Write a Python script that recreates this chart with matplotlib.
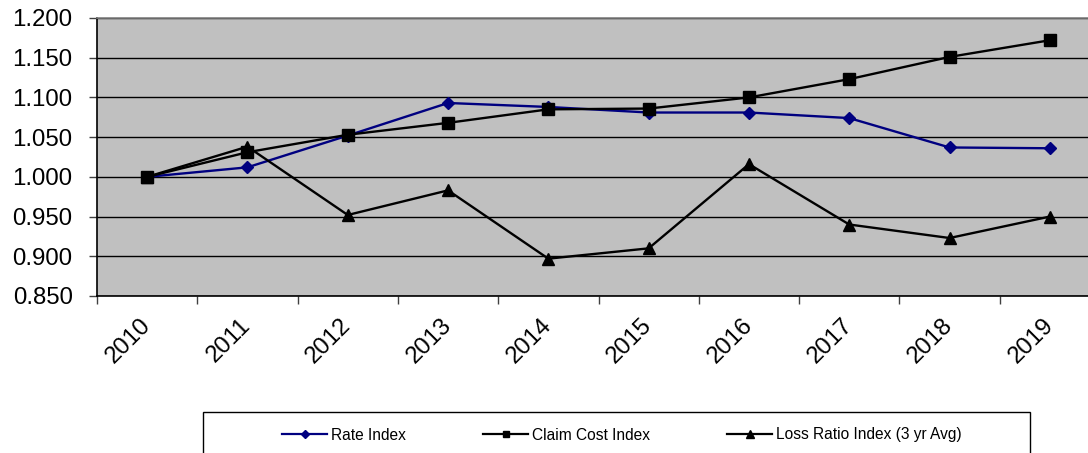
import matplotlib
matplotlib.use("Agg")
import matplotlib.pyplot as plt
from matplotlib.lines import Line2D
from matplotlib.patches import Rectangle

plt.rcParams['font.family'] = ['Liberation Sans', 'DejaVu Sans']

years = ["2010", "2011", "2012", "2013", "2014", "2015", "2016", "2017", "2018", "2019"]
rate_index = [1.000, 1.012, 1.052, 1.093, 1.088, 1.081, 1.081, 1.074, 1.037, 1.036]
claim_cost_index = [1.000, 1.031, 1.053, 1.068, 1.085, 1.086, 1.100, 1.123, 1.151, 1.172]
loss_ratio_index = [1.000, 1.038, 0.952, 0.983, 0.897, 0.910, 1.016, 0.940, 0.923, 0.950]
y_ticks = [0.85, 0.90, 0.95, 1.00, 1.05, 1.10, 1.15, 1.20]

W, H = 1088, 453
fig = plt.figure(figsize=(W / 100, H / 100), dpi=100)
ax = fig.add_axes([97 / W, (H - 296) / H, (1100 - 97) / W, (296 - 18) / H])
ax.set_facecolor('#C0C0C0')

x = list(range(len(years)))
ax.plot(x, rate_index, color='#000080', lw=1.7, marker='D', ms=6.2,
        mfc='#000080', mec='#000080', zorder=3)
ax.plot(x, claim_cost_index, color='black', lw=1.7, marker='s', ms=8.5,
        mfc='black', mec='black', zorder=4)
ax.plot(x, loss_ratio_index, color='black', lw=1.7, marker='^', ms=9,
        mfc='black', mec='black', zorder=5)

ax.set_xlim(-0.5, len(years) - 0.5)
ax.set_ylim(0.85, 1.20)
ax.set_yticks(y_ticks)
ax.set_yticklabels([f"{v:.3f}" for v in y_ticks], fontsize=17.3)
ax.yaxis.grid(True, color='black', lw=1.0)
ax.set_axisbelow(True)

# category boundaries carry the tick marks, centres carry the labels
ax.set_xticks([i - 0.5 for i in range(len(years) + 1)])
ax.set_xticklabels([])
ax.set_xticks(x, minor=True)
ax.set_xticklabels(years, minor=True, fontsize=17.3, rotation=45,
                   ha='right', va='center', rotation_mode='anchor')
ax.tick_params(axis='x', which='major', length=6, width=1, direction='out', color='#404040')
ax.tick_params(axis='x', which='minor', length=0, pad=19)
ax.tick_params(axis='y', length=6, width=1, direction='out', pad=11.5, color='#404040')

for s in ('left', 'bottom'):
    ax.spines[s].set_color('black')
    ax.spines[s].set_linewidth(1.2)
ax.spines['top'].set_color('#808080')
ax.spines['top'].set_linewidth(1.2)
ax.spines['right'].set_visible(False)

# legend box along the bottom edge
fig.add_artist(Rectangle((203 / W, -10 / H), (1030 - 203) / W, (H - 412 + 10) / H,
                         transform=fig.transFigure, fill=False,
                         edgecolor='black', lw=1.0, clip_on=False))
handles = [
    Line2D([], [], color='#000080', lw=1.6, marker='D', ms=4, mfc='#000080', mec='#000080'),
    Line2D([], [], color='black', lw=1.6, marker='s', ms=5, mfc='black', mec='black'),
    Line2D([], [], color='black', lw=1.6, marker='^', ms=5.5, mfc='black', mec='black'),
]
labels = ["Rate Index", "Claim Cost Index", "Loss Ratio Index (3 yr Avg)"]
fig.legend(handles, labels, loc='center', bbox_to_anchor=(622 / W, (H - 435) / H),
           ncol=3, frameon=False, fontsize=11.2, handlelength=2.9,
           handletextpad=0.26, columnspacing=4.95, borderpad=0)

fig.savefig('out.png', dpi=100)
